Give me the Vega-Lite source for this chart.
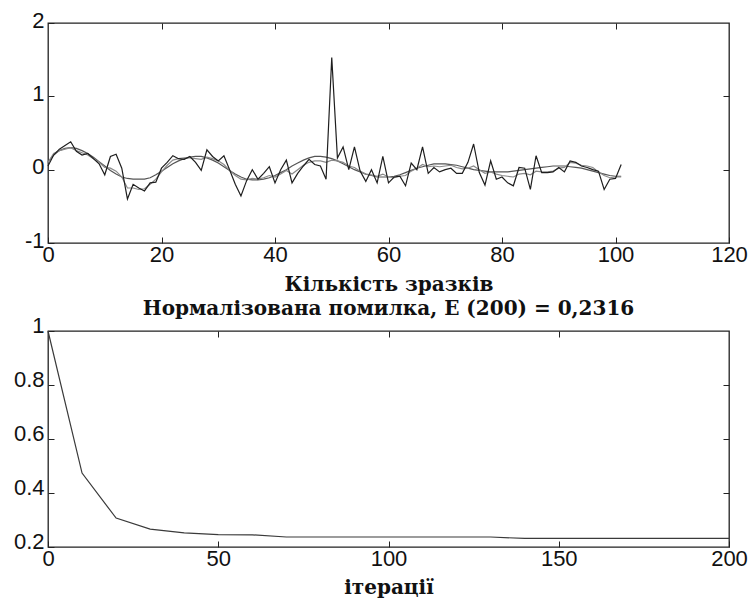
{
  "$schema": "https://vega.github.io/schema/vega-lite/v6.json",
  "autosize": {"type": "pad"},
  "padding": {"left": 12, "top": 8, "right": 0, "bottom": 0},
  "background": "white",
  "spacing": 88,
  "bounds": "flush",
  "config": {
    "view": {"stroke": "#222", "strokeWidth": 1.3},
    "axis": {
      "grid": false,
      "domain": false,
      "tickColor": "#222",
      "tickSize": -6,
      "labelFlush": false,
      "labelOverlap": false,
      "labelBound": false,
      "labelFont": "Liberation Sans",
      "labelFontSize": 22,
      "labelColor": "#111",
      "titleFont": "DejaVu Serif",
      "titleFontSize": 20,
      "titleFontWeight": "bold",
      "titleColor": "#111"
    },
    "title": {"font": "DejaVu Serif", "fontSize": 20, "fontWeight": "bold", "color": "#111"}
  },
  "datasets": {
    "sig": [
      {"x":0,"n":0.05,"e":0.1,"s":0.1},{"x":1,"n":0.2,"e":0.22,"s":0.2},{"x":2,"n":0.28,"e":0.26,"s":0.26},{"x":3,"n":0.33,"e":0.28,"s":0.29},{"x":4,"n":0.38,"e":0.3,"s":0.3},
      {"x":5,"n":0.25,"e":0.26,"s":0.29},{"x":6,"n":0.2,"e":0.23,"s":0.26},{"x":7,"n":0.22,"e":0.2,"s":0.22},{"x":8,"n":0.15,"e":0.15,"s":0.17},{"x":9,"n":0.08,"e":0.1,"s":0.11},
      {"x":10,"n":-0.07,"e":0.03,"s":0.05},{"x":11,"n":0.18,"e":0.02,"s":-0.01},{"x":12,"n":0.21,"e":-0.02,"s":-0.06},{"x":13,"n":0.02,"e":-0.1,"s":-0.1},{"x":14,"n":-0.4,"e":-0.25,"s":-0.12},
      {"x":15,"n":-0.2,"e":-0.25,"s":-0.13},{"x":16,"n":-0.25,"e":-0.27,"s":-0.13},{"x":17,"n":-0.29,"e":-0.26,"s":-0.13},{"x":18,"n":-0.18,"e":-0.2,"s":-0.11},{"x":19,"n":-0.17,"e":-0.13,"s":-0.07},
      {"x":20,"n":0.02,"e":-0.03,"s":-0.02},{"x":21,"n":0.1,"e":0.06,"s":0.03},{"x":22,"n":0.19,"e":0.13,"s":0.08},{"x":23,"n":0.15,"e":0.15,"s":0.12},{"x":24,"n":0.14,"e":0.16,"s":0.15},
      {"x":25,"n":0.18,"e":0.16,"s":0.17},{"x":26,"n":0.1,"e":0.15,"s":0.18},{"x":27,"n":-0.01,"e":0.14,"s":0.18},{"x":28,"n":0.27,"e":0.17,"s":0.16},{"x":29,"n":0.18,"e":0.15,"s":0.13},
      {"x":30,"n":0.12,"e":0.12,"s":0.09},{"x":31,"n":0.19,"e":0.07,"s":0.04},{"x":32,"n":0.0,"e":-0.01,"s":-0.01},{"x":33,"n":-0.2,"e":-0.08,"s":-0.06},{"x":34,"n":-0.36,"e":-0.13,"s":-0.1},
      {"x":35,"n":-0.15,"e":-0.14,"s":-0.13},{"x":36,"n":0.0,"e":-0.12,"s":-0.14},{"x":37,"n":-0.13,"e":-0.13,"s":-0.14},{"x":38,"n":-0.05,"e":-0.11,"s":-0.13},{"x":39,"n":0.04,"e":-0.08,"s":-0.11},
      {"x":40,"n":-0.18,"e":-0.1,"s":-0.08},{"x":41,"n":0.0,"e":-0.06,"s":-0.04},{"x":42,"n":0.13,"e":-0.01,"s":0.0},{"x":43,"n":-0.18,"e":-0.06,"s":0.05},{"x":44,"n":-0.05,"e":0.0,"s":0.09},
      {"x":45,"n":0.05,"e":0.06,"s":0.13},{"x":46,"n":0.14,"e":0.1,"s":0.16},{"x":47,"n":0.07,"e":0.12,"s":0.18},{"x":48,"n":0.05,"e":0.12,"s":0.18},{"x":49,"n":-0.13,"e":0.1,"s":0.17},
      {"x":50,"n":1.53,"e":0.13,"s":0.15},{"x":51,"n":0.16,"e":0.12,"s":0.12},{"x":52,"n":0.31,"e":0.1,"s":0.08},{"x":53,"n":0.0,"e":0.05,"s":0.04},{"x":54,"n":0.31,"e":0.03,"s":0.0},
      {"x":55,"n":-0.02,"e":-0.02,"s":-0.03},{"x":56,"n":-0.16,"e":-0.06,"s":-0.06},{"x":57,"n":0.0,"e":-0.07,"s":-0.08},{"x":58,"n":-0.18,"e":-0.09,"s":-0.1},{"x":59,"n":0.18,"e":-0.06,"s":-0.1},
      {"x":60,"n":-0.18,"e":-0.1,"s":-0.1},{"x":61,"n":-0.1,"e":-0.11,"s":-0.09},{"x":62,"n":-0.09,"e":-0.09,"s":-0.07},{"x":63,"n":-0.22,"e":-0.08,"s":-0.04},{"x":64,"n":0.09,"e":-0.02,"s":-0.01},
      {"x":65,"n":0.0,"e":0.02,"s":0.02},{"x":66,"n":0.31,"e":0.07,"s":0.04},{"x":67,"n":-0.05,"e":0.04,"s":0.06},{"x":68,"n":0.03,"e":0.05,"s":0.08},{"x":69,"n":-0.03,"e":0.04,"s":0.08},
      {"x":70,"n":0.0,"e":0.05,"s":0.08},{"x":71,"n":0.02,"e":0.06,"s":0.07},{"x":72,"n":-0.05,"e":0.03,"s":0.06},{"x":73,"n":-0.05,"e":0.01,"s":0.04},{"x":74,"n":0.1,"e":0.02,"s":0.02},
      {"x":75,"n":0.35,"e":0.05,"s":0.0},{"x":76,"n":-0.04,"e":0.0,"s":-0.01},{"x":77,"n":-0.21,"e":-0.05,"s":-0.02},{"x":78,"n":0.12,"e":-0.03,"s":-0.03},{"x":79,"n":-0.13,"e":-0.06,"s":-0.03},
      {"x":80,"n":-0.1,"e":-0.08,"s":-0.03},{"x":81,"n":-0.18,"e":-0.09,"s":-0.03},{"x":82,"n":-0.22,"e":-0.1,"s":-0.02},{"x":83,"n":0.03,"e":-0.06,"s":-0.01},{"x":84,"n":0.02,"e":-0.05,"s":0.0},
      {"x":85,"n":-0.27,"e":-0.07,"s":0.01},{"x":86,"n":0.19,"e":-0.02,"s":0.02},{"x":87,"n":-0.04,"e":-0.03,"s":0.03},{"x":88,"n":-0.04,"e":-0.03,"s":0.04},{"x":89,"n":-0.03,"e":-0.02,"s":0.05},
      {"x":90,"n":0.03,"e":0.02,"s":0.05},{"x":91,"n":-0.03,"e":0.03,"s":0.05},{"x":92,"n":0.12,"e":0.1,"s":0.04},{"x":93,"n":0.1,"e":0.09,"s":0.03},{"x":94,"n":0.05,"e":0.06,"s":0.02},
      {"x":95,"n":0.03,"e":0.05,"s":0.0},{"x":96,"n":0.0,"e":0.03,"s":-0.02},{"x":97,"n":-0.02,"e":-0.03,"s":-0.04},{"x":98,"n":-0.27,"e":-0.08,"s":-0.06},{"x":99,"n":-0.13,"e":-0.11,"s":-0.08},
      {"x":100,"n":-0.12,"e":-0.1,"s":-0.09},{"x":101,"n":0.07,"e":-0.1,"s":-0.09}
    ],
    "err": [
      {"it":0,"e":1.0},{"it":10,"e":0.474},{"it":20,"e":0.307},{"it":30,"e":0.266},{"it":40,"e":0.252},
      {"it":50,"e":0.246},{"it":60,"e":0.245},{"it":70,"e":0.237},{"it":80,"e":0.237},{"it":90,"e":0.237},
      {"it":100,"e":0.237},{"it":110,"e":0.237},{"it":120,"e":0.237},{"it":130,"e":0.237},{"it":140,"e":0.2316},
      {"it":150,"e":0.2316},{"it":160,"e":0.2316},{"it":170,"e":0.2316},{"it":180,"e":0.2316},{"it":190,"e":0.2316},{"it":200,"e":0.2316}
    ]
  },
  "vconcat": [
    {
      "width": 681,
      "height": 220,
      "data": {"name": "sig"},
      "transform": [{"fold": ["s", "e", "n"], "as": ["series", "val"]}],
      "resolve": {"axis": {"x": "independent", "y": "independent"}},
      "layer": [
        {
          "mark": {"type": "line", "strokeWidth": 1.2},
          "encoding": {
            "x": {"field": "x", "type": "quantitative", "scale": {"domain": [0, 120], "nice": false},
                  "axis": {"orient": "bottom", "values": [0, 20, 40, 60, 80, 100, 120], "title": "Кількість зразків", "labelPadding": 7, "titlePadding": 9}},
            "y": {"field": "val", "type": "quantitative", "scale": {"domain": [-1, 2], "nice": false},
                  "axis": {"orient": "left", "values": [-1, 0, 1, 2], "title": null, "labelPadding": 10, "labelOffset": -3,
                           "labelExpr": "datum.value < 0 ? '-' + abs(datum.value) : '' + datum.value"}},
            "color": {"field": "series", "type": "nominal", "scale": {"domain": ["s", "e", "n"], "range": ["#555555", "#8a8a8a", "#1e1e1e"]}, "legend": null},
            "order": {"field": "series", "sort": "ascending"}
          }
        },
        {
          "mark": {"type": "line", "strokeOpacity": 0},
          "encoding": {
            "x": {"field": "x", "type": "quantitative", "axis": {"orient": "top", "values": [20, 40, 60, 80, 100], "labels": false, "title": null}},
            "y": {"field": "val", "type": "quantitative", "axis": {"orient": "right", "values": [0, 1], "labels": false, "title": null}},
            "detail": {"field": "series"}
          }
        }
      ]
    },
    {
      "width": 681,
      "height": 216,
      "title": {"text": "Нормалізована  помилка, Е (200) = 0,2316", "offset": -5},
      "data": {"name": "err"},
      "resolve": {"axis": {"x": "independent", "y": "independent"}},
      "layer": [
        {
          "mark": {"type": "line", "strokeWidth": 1.2, "color": "#3a3a3a"},
          "encoding": {
            "x": {"field": "it", "type": "quantitative", "scale": {"domain": [0, 200], "nice": false},
                  "axis": {"orient": "bottom", "values": [0, 50, 100, 150, 200], "title": "ітерації", "labelPadding": 7, "titlePadding": 8}},
            "y": {"field": "e", "type": "quantitative", "scale": {"domain": [0.2, 1], "nice": false, "zero": false},
                  "axis": {"orient": "left", "values": [0.2, 0.4, 0.6, 0.8, 1], "format": "~g", "title": null, "labelPadding": 10, "labelOffset": -6}}
          }
        },
        {
          "mark": {"type": "line", "strokeOpacity": 0},
          "encoding": {
            "x": {"field": "it", "type": "quantitative", "axis": {"orient": "top", "values": [50, 100, 150], "labels": false, "title": null}},
            "y": {"field": "e", "type": "quantitative", "axis": {"orient": "right", "values": [0.4, 0.6, 0.8], "labels": false, "title": null}}
          }
        }
      ]
    }
  ]
}
